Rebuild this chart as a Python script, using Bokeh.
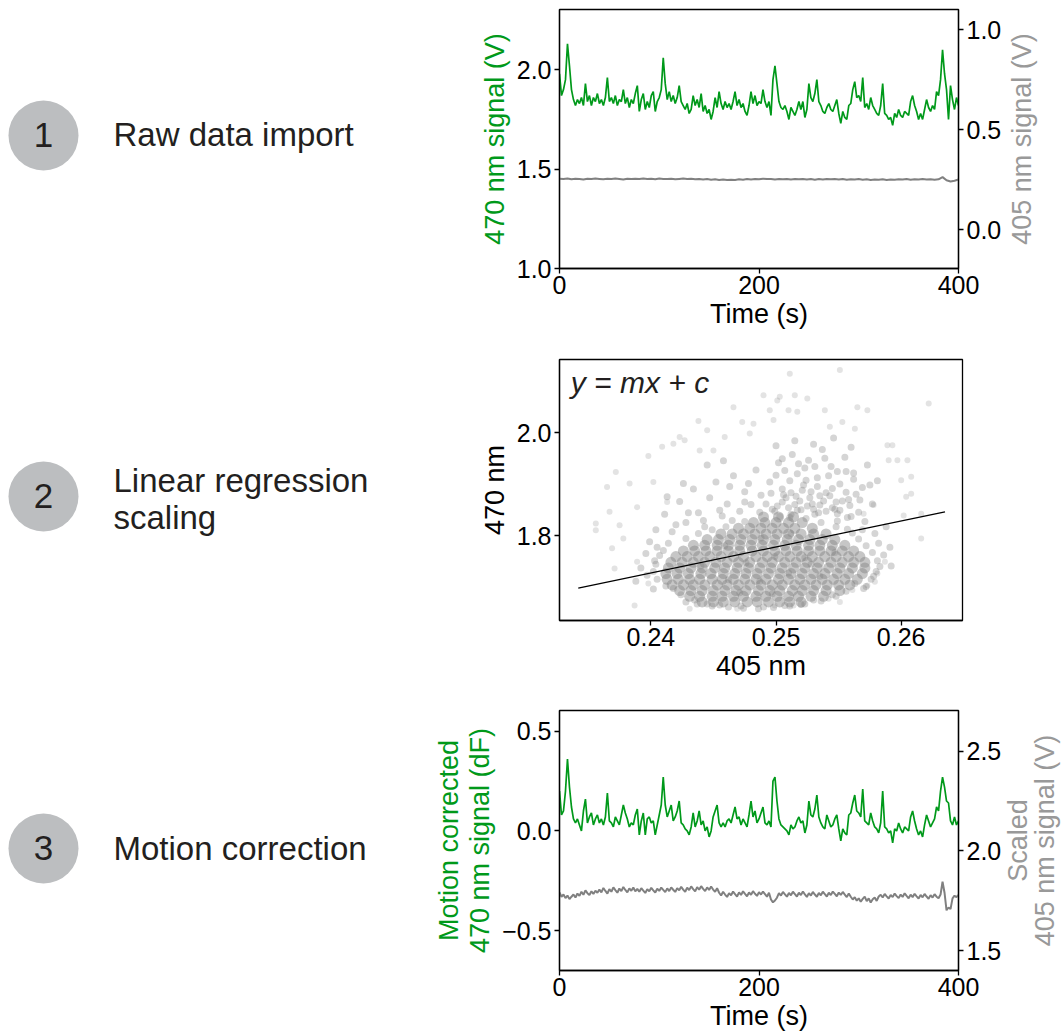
import math
import numpy as np
from bokeh.plotting import figure
from bokeh.layouts import row, column
from bokeh.models import Range1d, LinearAxis, FixedTicker, CustomJSTickFormatter, Label
from bokeh.core.properties import value
from bokeh.embed import file_html
from bokeh.resources import INLINE

FONT = "Liberation Sans"
GREEN = "#00991a"
GRAY = "#808080"
GRAY_LABEL = "#999999"
DARK = "#231f20"

# ---------------- data ----------------
step_numbers = ["1", "2", "3"]
step_titles = ["Raw data import", "Linear regression", "scaling", "Motion correction"]
right_titles = ["405 nm signal (V)", "Scaled", "405 nm signal (V)"]

trace_step_470 = 2   # seconds between 470 nm samples
trace_step_raw405 = 4   # seconds between raw 405 nm samples
trace_step_scaled405 = 2   # seconds between scaled 405 nm samples

raw_470 = [
    1.98, 1.87, 1.90, 1.95, 2.13, 2.02, 1.90, 1.85, 1.82, 1.85,
    1.83, 1.86, 1.82, 1.93, 1.84, 1.87, 1.82, 1.86, 1.84, 1.88,
    1.83, 1.85, 1.82, 1.86, 1.96, 1.84, 1.86, 1.83, 1.87, 1.82,
    1.85, 1.84, 1.90, 1.83, 1.86, 1.81, 1.85, 1.83, 1.88, 1.92,
    1.79, 1.85, 1.88, 1.80, 1.84, 1.81, 1.87, 1.89, 1.79, 1.84,
    1.86, 1.90, 2.06, 1.93, 1.85, 1.89, 1.84, 1.87, 1.83, 1.86,
    1.92, 1.84, 1.82, 1.80, 1.83, 1.78, 1.80, 1.87, 1.82, 1.85,
    1.81, 1.88, 1.79, 1.82, 1.78, 1.80, 1.75, 1.79, 1.86, 1.81,
    1.89, 1.83, 1.80, 1.84, 1.81, 1.83, 1.80, 1.84, 1.89, 1.82,
    1.85, 1.81, 1.83, 1.79, 1.77, 1.82, 1.89, 1.83, 1.87, 1.82,
    1.84, 1.83, 1.90, 1.84, 1.81, 1.84, 1.77, 1.95, 2.02, 1.93,
    1.84, 1.81, 1.80, 1.82, 1.79, 1.75, 1.81, 1.79, 1.77, 1.80,
    1.84, 1.80, 1.84, 1.76, 1.80, 1.93, 1.86, 1.84, 1.88, 1.95,
    1.84, 1.82, 1.79, 1.78, 1.81, 1.83, 1.80, 1.79, 1.82, 1.85,
    1.78, 1.73, 1.79, 1.76, 1.75, 1.82, 1.83, 1.90, 1.94, 1.86,
    1.87, 1.84, 1.96, 1.81, 1.83, 1.80, 1.86, 1.82, 1.80, 1.78,
    1.77, 1.82, 1.93, 1.78, 1.77, 1.75, 1.76, 1.72, 1.78, 1.76,
    1.80, 1.77, 1.76, 1.79, 1.78, 1.77, 1.84, 1.87, 1.82, 1.79,
    1.75, 1.78, 1.75, 1.80, 1.85, 1.81, 1.79, 1.82, 1.80, 1.89,
    1.87, 1.95, 2.10, 1.98, 1.90, 1.75, 1.92, 1.85, 1.80, 1.86,
    1.82,
]

raw_405 = [
    0.254, 0.252, 0.255, 0.251, 0.254, 0.253, 0.250, 0.254, 0.252, 0.255,
    0.253, 0.251, 0.254, 0.252, 0.255, 0.253, 0.250, 0.254, 0.252, 0.254,
    0.253, 0.255, 0.252, 0.254, 0.251, 0.255, 0.253, 0.252, 0.254, 0.251,
    0.253, 0.255, 0.252, 0.254, 0.251, 0.253, 0.250, 0.252, 0.249, 0.251,
    0.248, 0.250, 0.247, 0.249, 0.248, 0.251, 0.249, 0.252, 0.250, 0.253,
    0.251, 0.254, 0.252, 0.253, 0.250, 0.252, 0.251, 0.253, 0.250, 0.252,
    0.251, 0.253, 0.250, 0.252, 0.249, 0.252, 0.250, 0.253, 0.251, 0.252,
    0.250, 0.252, 0.249, 0.251, 0.250, 0.252, 0.249, 0.251, 0.248, 0.250,
    0.249, 0.251, 0.248, 0.250, 0.249, 0.251, 0.250, 0.252, 0.249, 0.251,
    0.250, 0.252, 0.250, 0.251, 0.249, 0.251, 0.262, 0.246, 0.240, 0.244,
    0.250,
]

corrected_470 = [
    0.20, 0.08, 0.10, 0.20, 0.36, 0.22, 0.12, 0.06, 0.04, 0.06,
    0.03, 0.00, 0.10, 0.16, 0.04, 0.07, 0.09, 0.03, 0.06, 0.08,
    0.04, 0.06, 0.03, 0.07, 0.19, 0.05, 0.04, 0.02, 0.07, 0.05,
    0.03, 0.08, 0.13, 0.09, 0.06, 0.02, 0.04, 0.03, 0.08, 0.11,
    -0.02, 0.05, 0.09, -0.02, 0.06, 0.07, 0.04, 0.05, -0.02, 0.03,
    0.08, 0.13, 0.27, 0.13, 0.07, 0.10, 0.13, 0.05, 0.07, 0.10,
    0.15, 0.04, 0.03, 0.01, 0.00, -0.02, 0.02, 0.09, 0.02, 0.05,
    0.10, 0.03, 0.05, 0.00, 0.02, -0.03, 0.00, 0.07, 0.10, 0.13,
    0.04, 0.02, 0.04, 0.02, 0.05, 0.06, 0.04, 0.08, 0.12, 0.06,
    0.07, 0.03, 0.06, 0.04, 0.02, 0.08, 0.15, 0.07, 0.10, 0.04,
    0.06, 0.09, 0.12, 0.04, 0.03, 0.05, 0.02, 0.25, 0.27, 0.15,
    0.06, 0.03, 0.02, 0.01, 0.00, -0.02, 0.03, 0.01, 0.02, 0.05,
    0.07, 0.04, 0.05, -0.01, 0.03, 0.15, 0.08, 0.07, 0.11, 0.18,
    0.07, 0.04, 0.02, 0.01, 0.08, 0.05, 0.02, 0.03, 0.06, 0.08,
    0.01, -0.05, 0.01, -0.01, -0.02, 0.08, 0.09, 0.14, 0.18, 0.10,
    0.09, 0.07, 0.21, 0.05, 0.04, 0.03, 0.09, 0.05, 0.02, 0.01,
    -0.01, 0.04, 0.20, 0.02, 0.01, -0.01, 0.00, -0.06, 0.01, 0.00,
    0.04, 0.01, -0.01, 0.02, 0.01, 0.00, 0.07, 0.10, 0.05, 0.01,
    -0.02, 0.00, -0.03, 0.03, 0.08, 0.05, 0.02, 0.04, 0.06, 0.12,
    0.10, 0.20, 0.27, 0.22, 0.15, 0.14, 0.05, 0.03, 0.07, 0.03,
    0.05,
]

scaled_405 = [
    1.792, 1.770, 1.781, 1.763, 1.776, 1.758, 1.770, 1.781, 1.766, 1.786,
    1.774, 1.795, 1.780, 1.802, 1.788, 1.779, 1.797, 1.784, 1.800, 1.790,
    1.806, 1.792, 1.814, 1.799, 1.786, 1.808, 1.795, 1.817, 1.803, 1.790,
    1.811, 1.798, 1.819, 1.804, 1.792, 1.812, 1.800, 1.816, 1.797, 1.809,
    1.795, 1.813, 1.801, 1.789, 1.808, 1.797, 1.815, 1.802, 1.791, 1.810,
    1.799, 1.816, 1.804, 1.793, 1.812, 1.798, 1.817, 1.805, 1.794, 1.813,
    1.802, 1.820, 1.806, 1.795, 1.816, 1.803, 1.822, 1.808, 1.797, 1.818,
    1.805, 1.823, 1.809, 1.798, 1.817, 1.804, 1.821, 1.806, 1.795, 1.813,
    1.790, 1.776, 1.795, 1.781, 1.769, 1.788, 1.777, 1.796, 1.783, 1.771,
    1.792, 1.779, 1.797, 1.784, 1.772, 1.791, 1.780, 1.798, 1.785, 1.774,
    1.793, 1.781, 1.796, 1.783, 1.770, 1.790, 1.756, 1.742, 1.751, 1.765,
    1.788, 1.776, 1.794, 1.782, 1.770, 1.789, 1.777, 1.795, 1.783, 1.771,
    1.790, 1.778, 1.796, 1.782, 1.769, 1.788, 1.776, 1.794, 1.781, 1.770,
    1.789, 1.777, 1.795, 1.783, 1.771, 1.790, 1.778, 1.796, 1.784, 1.772,
    1.791, 1.779, 1.794, 1.781, 1.768, 1.786, 1.770, 1.756, 1.768, 1.750,
    1.762, 1.745, 1.759, 1.771, 1.748, 1.762, 1.741, 1.757, 1.766, 1.749,
    1.771, 1.780, 1.766, 1.784, 1.772, 1.761, 1.779, 1.768, 1.786, 1.773,
    1.763, 1.781, 1.769, 1.787, 1.774, 1.762, 1.780, 1.768, 1.785, 1.772,
    1.761, 1.779, 1.767, 1.784, 1.771, 1.760, 1.778, 1.766, 1.783, 1.770,
    1.762, 1.781, 1.845, 1.790, 1.702, 1.716, 1.708, 1.762, 1.775, 1.768,
    1.779,
]

# scatter of 470 nm vs 405 nm samples.
# dense core: rows of (470 nm level, [405 nm values])
core_rows = [
    (1.672, [0.2441, 0.2450, 0.2458, 0.2467, 0.2477, 0.2485, 0.2494, 0.2503, 0.2511, 0.2520]),
    (1.683, [0.2431, 0.2439, 0.2449, 0.2457, 0.2466, 0.2474, 0.2484, 0.2492, 0.2501, 0.2510, 0.2518, 0.2528, 0.2538]),
    (1.694, [0.2423, 0.2432, 0.2441, 0.2450, 0.2459, 0.2468, 0.2476, 0.2486, 0.2495, 0.2503, 0.2513, 0.2521, 0.2530, 0.2540, 0.2551]),
    (1.705, [0.2417, 0.2426, 0.2434, 0.2443, 0.2453, 0.2461, 0.2470, 0.2479, 0.2488, 0.2497, 0.2505, 0.2515, 0.2523, 0.2532, 0.2541, 0.2550, 0.2559]),
    (1.716, [0.2413, 0.2422, 0.2431, 0.2439, 0.2449, 0.2457, 0.2466, 0.2475, 0.2484, 0.2492, 0.2502, 0.2510, 0.2519, 0.2528, 0.2537, 0.2546, 0.2555, 0.2565]),
    (1.727, [0.2412, 0.2421, 0.2430, 0.2440, 0.2448, 0.2458, 0.2467, 0.2476, 0.2485, 0.2494, 0.2503, 0.2512, 0.2521, 0.2530, 0.2539, 0.2549, 0.2558, 0.2569]),
    (1.738, [0.2414, 0.2423, 0.2432, 0.2441, 0.2451, 0.2459, 0.2469, 0.2478, 0.2487, 0.2496, 0.2505, 0.2514, 0.2523, 0.2533, 0.2542, 0.2551, 0.2561, 0.2571]),
    (1.749, [0.2416, 0.2425, 0.2434, 0.2443, 0.2452, 0.2461, 0.2470, 0.2479, 0.2489, 0.2497, 0.2507, 0.2516, 0.2525, 0.2534, 0.2544, 0.2553, 0.2562, 0.2571]),
    (1.760, [0.2420, 0.2429, 0.2438, 0.2447, 0.2456, 0.2466, 0.2474, 0.2484, 0.2493, 0.2502, 0.2511, 0.2520, 0.2529, 0.2539, 0.2548, 0.2558, 0.2567]),
    (1.771, [0.2426, 0.2435, 0.2444, 0.2453, 0.2462, 0.2471, 0.2481, 0.2490, 0.2499, 0.2508, 0.2517, 0.2526, 0.2535, 0.2544, 0.2553, 0.2562]),
    (1.782, [0.2434, 0.2443, 0.2453, 0.2462, 0.2471, 0.2480, 0.2489, 0.2498, 0.2507, 0.2516, 0.2526, 0.2535, 0.2545, 0.2555]),
    (1.793, [0.2445, 0.2454, 0.2463, 0.2472, 0.2481, 0.2490, 0.2499, 0.2509, 0.2518, 0.2527, 0.2537, 0.2547]),
    (1.804, [0.2456, 0.2465, 0.2474, 0.2483, 0.2492, 0.2501, 0.2510, 0.2520, 0.2530, 0.2540]),
    (1.815, [0.2470, 0.2479, 0.2488, 0.2497, 0.2506, 0.2515, 0.2529]),
    (1.826, [0.2482, 0.2491, 0.2500, 0.2510, 0.2521]),
    (1.837, [0.2490, 0.2502, 0.2514]),
]

mid_pts = [
    (0.2495, 1.905), (0.2502, 1.942), (0.2508, 1.874), (0.2513, 1.958), (0.2517, 1.921), (0.2521, 1.889),
    (0.2526, 1.947), (0.2529, 1.862), (0.2533, 1.913), (0.2537, 1.968), (0.2540, 1.884), (0.2544, 1.935),
    (0.2547, 1.852), (0.2551, 1.901), (0.2555, 1.953), (0.2558, 1.871), (0.2562, 1.922), (0.2566, 1.846),
    (0.2569, 1.894), (0.2573, 1.938), (0.2577, 1.862), (0.2581, 1.907), (0.2497, 1.852), (0.2505, 1.891),
    (0.2511, 1.836), (0.2519, 1.868), (0.2524, 1.908), (0.2531, 1.842), (0.2535, 1.878), (0.2542, 1.917),
    (0.2549, 1.829), (0.2553, 1.868), (0.2560, 1.838), (0.2564, 1.881), (0.2571, 1.828), (0.2575, 1.899),
    (0.2500, 1.975), (0.2515, 1.985), (0.2530, 1.978), (0.2546, 1.990), (0.2560, 1.972), (0.2507, 1.927),
    (0.2523, 1.932), (0.2539, 1.951), (0.2556, 1.925),
    (0.2492, 1.862), (0.2501, 1.858), (0.2510, 1.855), (0.2520, 1.851), (0.2530, 1.852), (0.2540, 1.848),
    (0.2549, 1.843), (0.2557, 1.836), (0.2496, 1.883), (0.2506, 1.880), (0.2516, 1.877), (0.2527, 1.874),
    (0.2538, 1.868), (0.2548, 1.866), (0.2559, 1.859), (0.2500, 1.918), (0.2511, 1.907), (0.2522, 1.899),
    (0.2533, 1.896), (0.2545, 1.892), (0.2556, 1.885), (0.2567, 1.870), (0.2505, 1.950), (0.2518, 1.940),
    (0.2531, 1.935), (0.2549, 1.925), (0.2562, 1.910), (0.2465, 1.830), (0.2455, 1.850), (0.2475, 1.866),
    (0.2442, 1.830), (0.2430, 1.845), (0.2420, 1.822),
    (0.2505, 1.866), (0.2515, 1.861), (0.2525, 1.858), (0.2535, 1.860), (0.2545, 1.855), (0.2512, 1.884),
    (0.2528, 1.886), (0.2543, 1.878), (0.2503, 1.838), (0.2517, 1.850), (0.2534, 1.845), (0.2551, 1.850),
    (0.2404, 1.812), (0.2411, 1.842), (0.2417, 1.808), (0.2423, 1.867), (0.2428, 1.826), (0.2434, 1.891),
    (0.2438, 1.845), (0.2443, 1.818), (0.2447, 1.874), (0.2452, 1.905), (0.2457, 1.839), (0.2461, 1.862),
    (0.2466, 1.917), (0.2471, 1.848), (0.2475, 1.886), (0.2480, 1.861), (0.2484, 1.928), (0.2488, 1.879),
    (0.2426, 1.902), (0.2413, 1.876), (0.2445, 1.938), (0.2463, 1.896), (0.2478, 1.902), (0.2458, 1.946),
    (0.2388, 1.712), (0.2392, 1.738), (0.2396, 1.766), (0.2399, 1.789), (0.2402, 1.697), (0.2397, 1.724),
    (0.2403, 1.752), (0.2405, 1.778),
    (0.2405, 1.716), (0.2402, 1.731), (0.2404, 1.745), (0.2407, 1.762), (0.2410, 1.772), (0.2414, 1.786),
    (0.2418, 1.698), (0.2412, 1.703), (0.2424, 1.686),
    (0.2428, 1.672), (0.2437, 1.668), (0.2449, 1.664), (0.2462, 1.662), (0.2474, 1.660), (0.2486, 1.659),
    (0.2498, 1.661), (0.2511, 1.664), (0.2523, 1.668), (0.2536, 1.674), (0.2548, 1.683),
    (0.2435, 1.676), (0.2445, 1.668), (0.2455, 1.666), (0.2472, 1.664), (0.2490, 1.662), (0.2507, 1.665),
    (0.2520, 1.667), (0.2530, 1.676), (0.2545, 1.686), (0.2556, 1.693),
    (0.2572, 1.702), (0.2578, 1.722), (0.2583, 1.741), (0.2586, 1.763), (0.2582, 1.786), (0.2579, 1.805),
    (0.2588, 1.818), (0.2592, 1.742), (0.2591, 1.778), (0.2569, 1.812),
    (0.2576, 1.716), (0.2580, 1.731), (0.2581, 1.752), (0.2577, 1.768), (0.2572, 1.781), (0.2566, 1.794),
    (0.2561, 1.806), (0.2563, 1.708), (0.2570, 1.698),
    (0.2428, 1.795), (0.2438, 1.805), (0.2449, 1.812), (0.2460, 1.818), (0.2475, 1.828), (0.2487, 1.846),
    (0.2499, 1.848), (0.2512, 1.842), (0.2524, 1.834), (0.2536, 1.826), (0.2548, 1.818), (0.2557, 1.813),
    (0.2440, 1.742), (0.2462, 1.715), (0.2476, 1.748), (0.2487, 1.712), (0.2499, 1.760), (0.2510, 1.728),
    (0.2523, 1.758), (0.2535, 1.722), (0.2547, 1.768), (0.2459, 1.781), (0.2488, 1.796), (0.2512, 1.805),
    (0.2528, 1.745), (0.2471, 1.690), (0.2497, 1.688),
]

outer_pts = [
    (0.2356, 1.824), (0.2356, 1.811), (0.2365, 1.895), (0.2367, 1.847), (0.2369, 1.776), (0.2372, 1.924),
    (0.2371, 1.737), (0.2375, 1.821), (0.2378, 1.795), (0.2383, 1.902), (0.2387, 1.665), (0.2389, 1.856),
    (0.2389, 1.750), (0.2398, 1.955), (0.2398, 1.708), (0.2402, 1.905), (0.2409, 1.973), (0.2413, 1.866),
    (0.2418, 1.979), (0.2423, 1.992), (0.2427, 1.986), (0.2431, 1.659), (0.2438, 2.023), (0.2439, 1.966),
    (0.2445, 2.005), (0.2450, 1.966), (0.2459, 1.992), (0.2466, 2.050), (0.2469, 1.659), (0.2473, 2.021),
    (0.2479, 1.999), (0.2482, 2.018), (0.2490, 2.073), (0.2495, 2.044), (0.2501, 2.063),
    (0.2511, 2.115), (0.2551, 2.122), (0.2503, 2.070), (0.2515, 2.073), (0.2525, 2.067), (0.2498, 2.025),
    (0.2510, 2.044), (0.2517, 2.041), (0.2539, 2.044), (0.2565, 2.050), (0.2573, 2.044), (0.2622, 2.057),
    (0.2543, 2.012), (0.2553, 2.021), (0.2563, 2.008), (0.2589, 1.976), (0.2593, 1.976), (0.2597, 1.947),
    (0.2605, 1.947), (0.2590, 1.947), (0.2600, 1.908), (0.2608, 1.915), (0.2608, 1.882), (0.2604, 1.876),
    (0.2616, 1.843), (0.2616, 1.795), (0.2602, 1.840), (0.2587, 1.750), (0.2581, 1.727), (0.2579, 1.711),
    (0.2573, 1.704), (0.2561, 1.695), (0.2551, 1.672), (0.2542, 1.678), (0.2514, 1.665), (0.2499, 1.665),
    (0.2578, 1.860), (0.2570, 1.843),
]

fit_405 = [0.2342, 0.2635]
fit_470 = [1.699, 1.847]

time_470 = np.arange(len(raw_470)) * trace_step_470
time_raw405 = np.arange(len(raw_405)) * trace_step_raw405
time_scaled405 = np.arange(len(scaled_405)) * trace_step_scaled405

core_405 = [x for _, xs in core_rows for x in xs]
core_470 = [y for y, xs in core_rows for _ in xs]


def style_axis(ax, ticks, formatter=None, label_color="black"):
    ax.ticker = FixedTicker(ticks=ticks)
    if formatter is not None:
        ax.formatter = formatter
    ax.minor_tick_line_color = None
    ax.major_tick_in = 0
    ax.major_tick_out = 5
    ax.major_tick_line_width = 1.3
    ax.major_tick_line_color = "black"
    ax.axis_line_width = 1.3
    ax.axis_line_color = "black"
    ax.major_label_text_font = FONT
    ax.major_label_text_font_size = "25px"
    ax.major_label_text_color = "black"
    ax.major_label_standoff = 3
    ax.axis_label_text_font = FONT
    ax.axis_label_text_font_size = "27px"
    ax.axis_label_text_font_style = "normal"
    ax.axis_label_text_color = label_color
    ax.axis_label_standoff = 4


def base_fig(**kw):
    p = figure(toolbar_location=None, output_backend="svg", **kw)
    p.xgrid.visible = False
    p.ygrid.visible = False
    p.outline_line_color = "black"
    p.outline_line_width = 1.3
    p.outline_line_alpha = 1.0
    p.background_fill_color = "white"
    p.border_fill_color = "white"
    return p


def text_column(width):
    p = figure(width=width, height=1032, x_range=Range1d(0, width), y_range=Range1d(1032, 0),
               toolbar_location=None, output_backend="svg", min_border=0,
               x_axis_location=None, y_axis_location=None)
    p.xgrid.visible = False
    p.ygrid.visible = False
    p.outline_line_color = None
    return p


one_dec = CustomJSTickFormatter(code="return (tick < 0 ? '\u2212' : '') + Math.abs(tick).toFixed(1);")
two_dec = CustomJSTickFormatter(code="return tick.toFixed(2);")
no_dec = CustomJSTickFormatter(code="return tick.toFixed(0);")

LEFT_W = 427
BORDER_L = 132
RIGHT_W = 58

# ---------------- left column: step labels ----------------
lf = text_column(LEFT_W)
circle_y = [135, 496, 848]
lf.scatter(x=[43, 43, 43], y=circle_y, size=70, fill_color="#bcbec0", line_color=None)
lf.text(x=[43, 43, 43], y=[c - 1 for c in circle_y], text=step_numbers,
        text_font=value(FONT), text_font_size="35px", text_color=DARK,
        text_align="center", text_baseline="alphabetic")
lf.text(x=[113, 113, 113, 113], y=[134, 480, 517, 848], text=step_titles,
        text_font=value(FONT), text_font_size="33px", text_color=DARK,
        text_align="left", text_baseline="alphabetic")

# ---------------- panel 1: raw data ----------------
f1 = base_fig(frame_width=399, frame_height=259, x_range=Range1d(0, 400), y_range=Range1d(1.0, 2.303),
              min_border_left=BORDER_L, min_border_right=46, min_border_top=9, min_border_bottom=72)
f1.extra_y_ranges = {"v405": Range1d(-0.195, 1.10)}
f1.line(time_470, raw_470, line_color=GREEN, line_width=1.7)
f1.line(time_raw405, raw_405, line_color=GRAY, line_width=2.0, y_range_name="v405")
r1 = LinearAxis(y_range_name="v405")
f1.add_layout(r1, "right")
style_axis(f1.xaxis[0], [0, 200, 400], no_dec)
f1.xaxis[0].axis_label = "Time (s)"
f1.xaxis[0].major_label_standoff = 2
f1.xaxis[0].axis_label_standoff = 2
style_axis(f1.yaxis[0], [1.0, 1.5, 2.0], one_dec, GREEN)
f1.yaxis[0].axis_label = "470 nm signal (V)"
style_axis(r1, [0.0, 0.5, 1.0], one_dec)

# ---------------- panel 2: regression ----------------
f2 = base_fig(frame_width=403, frame_height=261, x_range=Range1d(0.2327, 0.2649), y_range=Range1d(1.636, 2.1425),
              min_border_left=BORDER_L, min_border_right=42, min_border_top=19, min_border_bottom=70)
f2.scatter([p[0] for p in outer_pts], [p[1] for p in outer_pts], size=6, fill_color=GRAY, fill_alpha=0.22, line_color=None)
f2.scatter([p[0] for p in mid_pts], [p[1] for p in mid_pts], size=7, fill_color=GRAY, fill_alpha=0.33, line_color=None)
f2.scatter(core_405, core_470, size=11, fill_color=GRAY, fill_alpha=0.45, line_color=None)
f2.line(fit_405, fit_470, line_color="black", line_width=1.3)
style_axis(f2.xaxis[0], [0.24, 0.25, 0.26], two_dec)
f2.xaxis[0].axis_label = "405 nm"
f2.xaxis[0].major_label_standoff = 2
f2.xaxis[0].axis_label_standoff = 2
style_axis(f2.yaxis[0], [1.8, 2.0], one_dec)
f2.yaxis[0].axis_label = "470 nm"
f2.add_layout(Label(x=0.2336, y=2.0985, text="y = mx + c", text_font=FONT, text_font_size="30px",
                    text_font_style="italic", text_color=DARK, text_baseline="alphabetic"))

# ---------------- panel 3: motion correction ----------------
f3 = base_fig(frame_width=399, frame_height=260, x_range=Range1d(0, 400), y_range=Range1d(-0.70, 0.604),
              min_border_left=BORDER_L, min_border_right=46, min_border_top=20, min_border_bottom=62)
f3.extra_y_ranges = {"scaled": Range1d(1.40, 2.704)}
f3.line(time_470, corrected_470, line_color=GREEN, line_width=1.7)
f3.line(time_scaled405, scaled_405, line_color=GRAY, line_width=2.0, y_range_name="scaled")
r3 = LinearAxis(y_range_name="scaled")
f3.add_layout(r3, "right")
style_axis(f3.xaxis[0], [0, 200, 400], no_dec)
f3.xaxis[0].axis_label = "Time (s)"
f3.xaxis[0].major_label_standoff = 2
f3.xaxis[0].axis_label_standoff = 2
style_axis(f3.yaxis[0], [-0.5, 0.0, 0.5], one_dec, GREEN)
f3.yaxis[0].axis_label = "Motion corrected\n470 nm signal (dF)"
f3.yaxis[0].axis_label_text_line_height = 1.05
style_axis(r3, [1.5, 2.0, 2.5], one_dec)

# ---------------- right column: right-hand axis titles (read bottom-to-top) ----------------
rf = text_column(RIGHT_W)
rf.text(x=[17, 13, 40], y=[138.5, 840, 840], text=right_titles, angle=math.pi / 2,
        text_font=value(FONT), text_font_size="27px", text_color=GRAY_LABEL,
        text_align="center", text_baseline="middle")

layout = row(lf, column(f1, f2, f3), rf)
open("out.html", "w").write(file_html(layout, INLINE))
